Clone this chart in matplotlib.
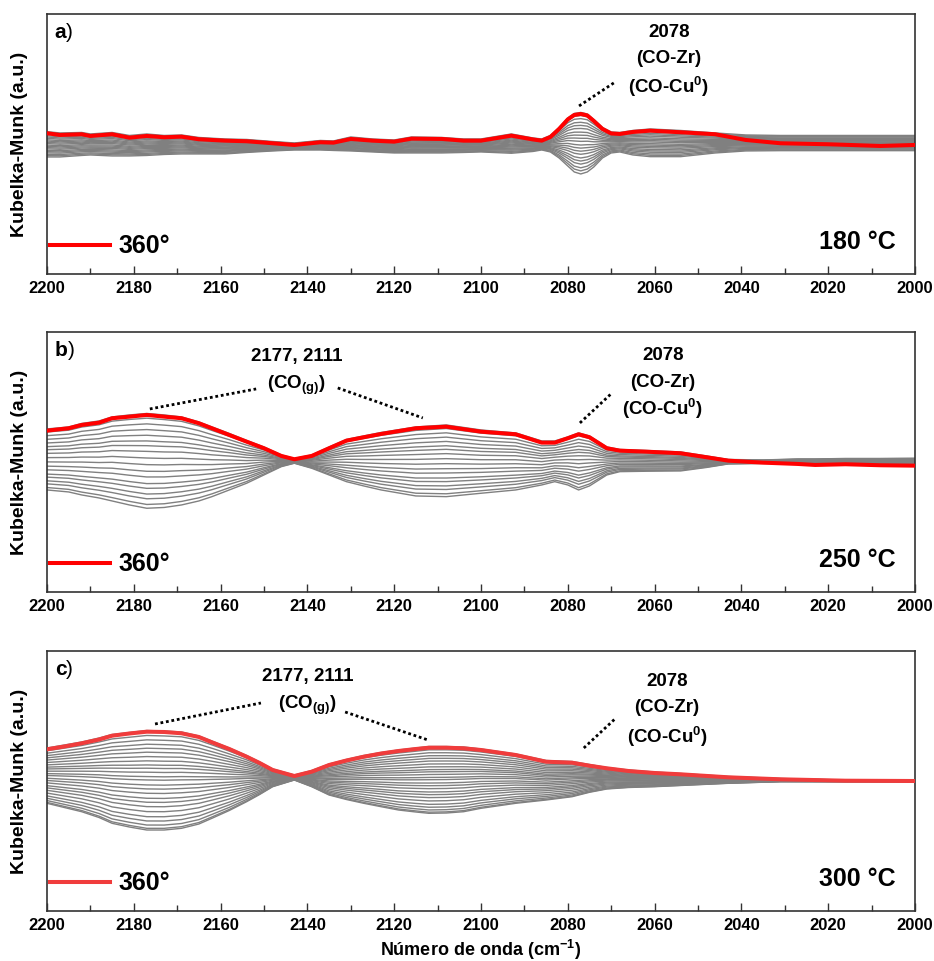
import numpy as np
import matplotlib
matplotlib.use('Agg')
import matplotlib.pyplot as plt
from matplotlib.ticker import MultipleLocator

plt.rcParams['font.family'] = ['Liberation Sans', 'DejaVu Sans']
plt.rcParams['font.weight'] = 'bold'
plt.rcParams['mathtext.fontset'] = 'custom'
plt.rcParams['mathtext.rm'] = 'Liberation Sans:bold'
plt.rcParams['mathtext.bf'] = 'Liberation Sans:bold'
plt.rcParams['mathtext.default'] = 'rm'

# ---- data (Kubelka-Munk, a.u.) ----
# panel a : 180 C
wn_a = [2200, 2197, 2192, 2190, 2185, 2181, 2177, 2173, 2169, 2165, 2159, 2154, 2148, 2143,
        2137, 2134, 2130, 2125, 2120, 2116, 2109, 2104, 2100, 2093, 2088, 2086, 2084, 2082,
        2080, 2078.5, 2077, 2075.5, 2074, 2072, 2070, 2068, 2065, 2061, 2054, 2046, 2039,
        2031, 2020, 2008, 2000]
red_a = [14.07, 13.9, 13.97, 13.8, 13.97, 13.63, 13.8, 13.67, 13.73, 13.47, 13.33, 13.27, 13.07, 12.9,
         13.17, 13.13, 13.5, 13.33, 13.23, 13.53, 13.5, 13.33, 13.33, 13.83, 13.45, 13.33, 13.7, 14.5,
         15.45, 15.9, 16.0, 15.85, 15.3, 14.5, 14.05, 14.0, 14.2, 14.33, 14.17, 13.97, 13.4,
         13.07, 12.97, 12.8, 12.9]
top_a = [14.23, 14.1, 14.15, 14.0, 14.15, 13.85, 14.0, 13.85, 13.9, 13.65, 13.5, 13.45, 13.25, 13.1,
         13.35, 13.3, 13.7, 13.5, 13.4, 13.7, 13.65, 13.5, 13.5, 14.0, 13.6, 13.5, 13.85, 14.65,
         15.6, 16.05, 16.15, 16.0, 15.45, 14.65, 14.2, 14.15, 14.35, 14.5, 14.35, 14.1, 13.9,
         13.85, 13.85, 13.85, 13.85]
low_a = [11.7, 11.7, 11.85, 11.9, 11.8, 11.8, 11.85, 11.95, 12.0, 12.0, 12.0, 12.15, 12.3, 12.4,
         12.4, 12.35, 12.3, 12.2, 12.1, 12.1, 12.1, 12.15, 12.2, 12.07, 12.25, 12.4, 12.2, 11.6,
         10.8, 10.2, 10.0, 10.2, 10.7, 11.6, 12.1, 12.2, 11.9, 11.73, 11.73, 12.1, 12.3,
         12.33, 12.33, 12.33, 12.33]
frac_a = [0, 0.05, 0.1, 0.16, 0.21, 0.26, 0.32, 0.37, 0.42, 0.47, 0.53, 0.58, 0.63, 0.68,
          0.74, 0.79, 0.84, 0.9, 0.95, 1.0]

# panel b : 250 C
wn_b = [2200, 2195, 2192, 2188, 2185, 2181, 2177, 2173, 2169, 2165, 2162, 2158, 2154, 2150,
        2146, 2143, 2139, 2135, 2131, 2127, 2123, 2115, 2108, 2100, 2092, 2086, 2083, 2080,
        2077.5, 2075, 2071, 2068, 2062, 2054, 2048, 2043, 2035, 2027, 2023, 2016, 2008, 2000]
red_b = [16.13, 16.37, 16.7, 16.93, 17.37, 17.53, 17.7, 17.53, 17.37, 16.87, 16.37, 15.7, 15.03, 14.37,
         13.6, 13.27, 13.6, 14.37, 15.13, 15.47, 15.8, 16.37, 16.53, 16.03, 15.77, 14.93, 14.93, 15.37,
         15.77, 15.47, 14.37, 14.13, 14.03, 13.87, 13.47, 13.13, 12.93, 12.8, 12.7, 12.77, 12.67, 12.63]
top_b = [16.3, 16.5, 16.85, 17.1, 17.5, 17.7, 17.85, 17.7, 17.5, 17.0, 16.5, 15.85, 15.15, 14.5,
         13.7, 13.35, 13.7, 14.5, 15.25, 15.6, 15.95, 16.5, 16.7, 16.2, 15.9, 15.1, 15.1, 15.5,
         15.9, 15.6, 14.5, 14.25, 14.15, 14.0, 13.6, 13.25, 13.2, 13.3, 13.3, 13.35, 13.35, 13.37]
low_b = [10.2, 10.0, 9.7, 9.4, 9.1, 8.7, 8.37, 8.45, 8.7, 9.1, 9.53, 10.2, 10.87, 11.7,
         12.53, 12.87, 12.37, 11.7, 11.03, 10.6, 10.2, 9.6, 9.53, 9.87, 10.2, 10.7, 11.03, 10.7,
         10.2, 10.6, 11.7, 12.03, 12.07, 12.1, 12.45, 12.8, 12.85, 12.85, 12.85, 12.85, 12.85, 12.87]
frac_b = [0, 0.04, 0.10, 0.15, 0.21, 0.26, 0.33, 0.39, 0.46, 0.53, 0.60, 0.66, 0.71, 0.77,
          0.83, 0.89, 0.95, 1.0]

# panel c : 300 C
wn_c = [2200, 2196, 2192, 2188, 2185, 2181, 2177, 2173, 2169, 2165, 2162, 2158, 2154, 2151,
        2148, 2143, 2139, 2135, 2131, 2127, 2123, 2119, 2115, 2112, 2108, 2104, 2100, 2092,
        2085, 2079, 2075, 2071, 2066, 2060, 2054, 2043, 2031, 2016, 2000]
red_c = [16.17, 16.45, 16.77, 17.15, 17.53, 17.75, 17.93, 17.9, 17.77, 17.4, 16.87, 16.2, 15.43, 14.8,
         14.1, 13.5, 13.93, 14.6, 15.05, 15.43, 15.75, 16.0, 16.2, 16.33, 16.33, 16.27, 16.1, 15.6,
         14.93, 14.83, 14.53, 14.27, 14.0, 13.8, 13.67, 13.37, 13.17, 13.03, 13.0]
top_c = [16.3, 16.6, 16.9, 17.3, 17.65, 17.85, 18.05, 18.0, 17.9, 17.5, 17.0, 16.3, 15.55, 14.9,
         14.2, 13.6, 14.05, 14.7, 15.15, 15.55, 15.85, 16.1, 16.3, 16.45, 16.45, 16.4, 16.2, 15.7,
         15.05, 14.95, 14.65, 14.35, 14.1, 13.9, 13.75, 13.45, 13.25, 13.1, 13.05]
low_c = [10.77, 10.35, 9.93, 9.35, 8.77, 8.4, 8.1, 8.1, 8.27, 8.7, 9.27, 10.05, 10.93, 11.65,
         12.43, 13.1, 12.43, 11.6, 11.15, 10.77, 10.43, 10.1, 9.9, 9.77, 9.8, 9.93, 10.27, 10.77,
         11.1, 11.43, 11.87, 12.2, 12.35, 12.43, 12.55, 12.77, 12.93, 12.93, 12.93]
frac_c = [0, 0.017, 0.05, 0.091, 0.134, 0.185, 0.235, 0.279, 0.319, 0.369, 0.413, 0.453, 0.503,
          0.537, 0.581, 0.621, 0.654, 0.695, 0.738, 0.782, 0.822, 0.862, 0.906, 0.95, 1.0]

panels = [
    dict(wn=wn_a, red=red_a, top=top_a, low=low_a, frac=frac_a, label='a', temp='180 °C',
         red_col='#ff0000', gas=False, cu_txt=(2056.7, [24.1, 21.5, 18.7]),
         cu_line=([2077.4, 2069.4], [16.8, 19.1])),
    dict(wn=wn_b, red=red_b, top=top_b, low=low_b, frac=frac_b, label='b', temp='250 °C',
         red_col='#ff0000', gas=True, gas_txt=(2142.4, [23.5, 20.7]),
         gas_l=([2176.3, 2151.8], [18.3, 20.3]), gas_r=([2133, 2113.4], [20.4, 17.4]),
         cu_txt=(2058.1, [23.6, 20.9, 18.3]), cu_line=([2077.2, 2069.8], [16.9, 19.9])),
    dict(wn=wn_c, red=red_c, top=top_c, low=low_c, frac=frac_c, label='c', temp='300 °C',
         red_col='#f03c3c', gas=True, gas_txt=(2140, [23.4, 20.6]),
         gas_l=([2175.1, 2150.7], [18.7, 20.8]), gas_r=([2131.3, 2112.2], [19.9, 17.1]),
         cu_txt=(2057.1, [22.9, 20.3, 17.4]), cu_line=([2076.3, 2068.9], [16.3, 19.3])),
]

fig = plt.figure(figsize=(9.34, 9.61), dpi=100)
bottoms = [0.7149, 0.384, 0.052]
note_fs = 13.5

for p, b in zip(panels, bottoms):
    ax = fig.add_axes([0.0503, b, 0.9293, 0.2706])
    wn = np.array(p['wn'])
    top = np.array(p['top'])
    low = np.array(p['low'])
    for f in p['frac']:
        ax.plot(wn, low + f * (top - low), color='#808080', lw=1.0, zorder=2)
    ax.plot(wn, p['red'], color=p['red_col'], lw=2.9, zorder=3, label='360°',
            solid_joinstyle='round')

    ax.set_xlim(2200, 2000)
    ax.set_ylim(0, 26)
    ax.xaxis.set_major_locator(MultipleLocator(20))
    ax.xaxis.set_minor_locator(MultipleLocator(10))
    ax.tick_params(axis='x', which='both', direction='in', top=False, labelsize=12, pad=5,
                   width=1, colors='#333333', labelcolor='black')
    ax.tick_params(axis='x', which='major', length=6)
    ax.tick_params(axis='x', which='minor', length=4)
    ax.set_yticks([])
    for s in ax.spines.values():
        s.set_color('#333333')
        s.set_linewidth(1.2)

    ax.set_ylabel('Kubelka-Munk (a.u.)', fontsize=14, fontweight='bold')
    ax.yaxis.set_label_coords(-0.022, 0.5)

    t = ax.text(0.009, 0.927, p['label'], transform=ax.transAxes, fontsize=15,
                fontweight='bold', va='center', ha='left')
    ax.annotate(')', xy=(1, 0), xycoords=t, va='bottom', ha='left', fontsize=15,
                fontweight='normal')

    ax.text(0.978, 0.123, p['temp'], transform=ax.transAxes, fontsize=18,
            fontweight='bold', ha='right', va='center')

    ax.legend(loc='lower left', bbox_to_anchor=(0.003, 0.06), frameon=False,
              handlelength=2.4, handletextpad=0.35, borderaxespad=0,
              borderpad=0.0, prop={'weight': 'bold', 'size': 18})

    # annotations
    cx, cys = p['cu_txt']
    ax.text(cx, cys[0], '2078', ha='center', va='center', fontsize=note_fs)
    ax.text(cx, cys[1], '(CO-Zr)', ha='center', va='center', fontsize=note_fs)
    ax.text(cx, cys[2], '(CO-Cu$^{0}$)', ha='center', va='center', fontsize=note_fs)
    ax.plot(*p['cu_line'], color='black', ls=(0, (1, 1)), lw=2.0)
    if p['gas']:
        gx, gys = p['gas_txt']
        ax.text(gx, gys[0], '2177, 2111', ha='center', va='center', fontsize=note_fs)
        ax.text(gx, gys[1], '(CO$_{(g)}$)', ha='center', va='center', fontsize=note_fs)
        ax.plot(*p['gas_l'], color='black', ls=(0, (1, 1)), lw=2.0)
        ax.plot(*p['gas_r'], color='black', ls=(0, (1, 1)), lw=2.0)

ax.set_xlabel('Número de onda (cm$^{-1}$)', fontsize=13, fontweight='bold')
ax.xaxis.set_label_coords(0.5, -0.148)
ax.xaxis.label.set_va('center')

fig.savefig('out.png', dpi=100)
